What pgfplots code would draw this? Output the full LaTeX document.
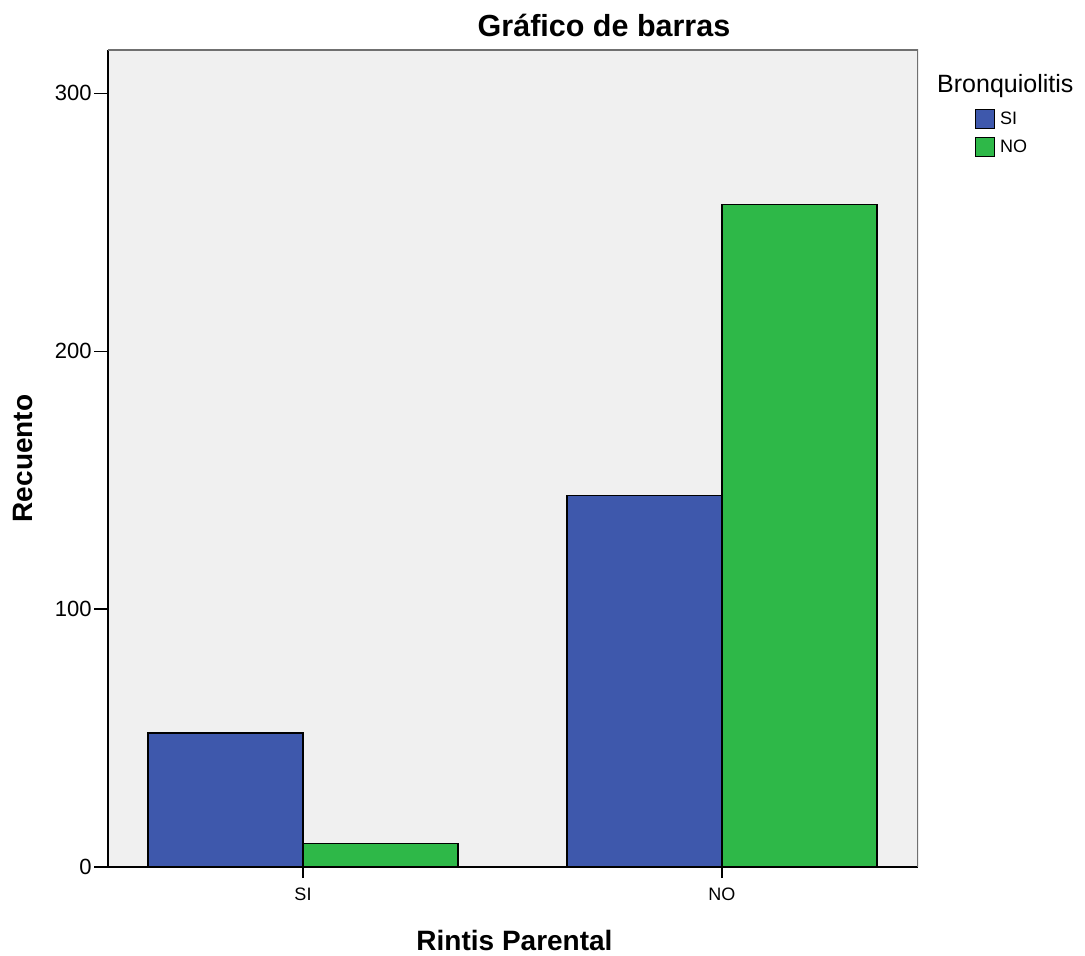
\documentclass[border=0pt]{standalone}
\usepackage{fontspec}
\setmainfont{Liberation Sans}
\usepackage{pgfplots}
\pgfplotsset{compat=1.18}
\definecolor{barblue}{HTML}{3E58AC}
\definecolor{bargreen}{HTML}{2EB848}
\definecolor{plotbg}{HTML}{F0F0F0}
\definecolor{framegray}{HTML}{707070}

\begin{document}
\begin{tikzpicture}[x=1pt,y=1pt]
\path[use as bounding box] (-108,-89) rectangle (977,867);
\begin{axis}[
  at={(0,0)}, anchor=south west,
  scale only axis, width=810pt, height=817pt,
  xmin=-0.4654, xmax=1.4678, ymin=0, ymax=316.8,
  ybar, bar width=0.37,
  axis background/.style={fill=plotbg},
  axis x line*=bottom, axis y line*=left,
  axis line style={-, black, line width=1.3pt},
  tick align=outside,
  xtick={0,1}, xticklabels={SI,NO},
  ytick={0,100,200,300},
  xtick style={black, line width=1.3pt, /pgfplots/major tick length=11pt},
  ytick style={black, line width=1.3pt, /pgfplots/major tick length=14pt},
  /pgf/number format/assume math mode=true,
  xticklabel style={font=\fontsize{18}{18}\selectfont, inner sep=0pt, yshift=-16pt},
  yticklabel style={font=\fontsize{22}{22}\selectfont, inner sep=1pt, xshift=-11pt},
  legend style={at={(1.07037,0.92778)}, anchor=north west, draw=none, fill=none,
    inner sep=0pt, row sep=8pt, column sep=5pt,
    font=\fontsize{18}{18}\selectfont, nodes={inner sep=0pt, anchor=west}},
  legend image code/.code={\draw[#1, line width=1pt] (0pt,-9.5pt) rectangle (19pt,9.5pt);},
  legend cell align=left,
]
\addplot[fill=barblue, draw=black, line width=1.3pt, bar shift=-0.185]
  coordinates {(0,52) (1,144)};
\addplot[fill=bargreen, draw=black, line width=1.3pt, bar shift=0.185]
  coordinates {(0,9) (1,257)};
\legend{SI,NO}
\draw[framegray, line width=2pt] (rel axis cs:0,1) -- (rel axis cs:1,1) -- (rel axis cs:1,0);
\end{axis}
\node[anchor=base, font=\fontsize{30.5}{30.5}\selectfont\bfseries] at (496,830) {Gráfico de barras};
\node[anchor=base, font=\fontsize{28}{28}\selectfont\bfseries] at (406.5,-83) {Rintis Parental};
\node[anchor=base, rotate=90, font=\fontsize{28}{28}\selectfont\bfseries] at (-75,408.5) {Recuento};
\node[anchor=base west, inner sep=0pt, font=\fontsize{25}{25}\selectfont] at (829,774) {Bronquiolitis};
\end{tikzpicture}
\end{document}
